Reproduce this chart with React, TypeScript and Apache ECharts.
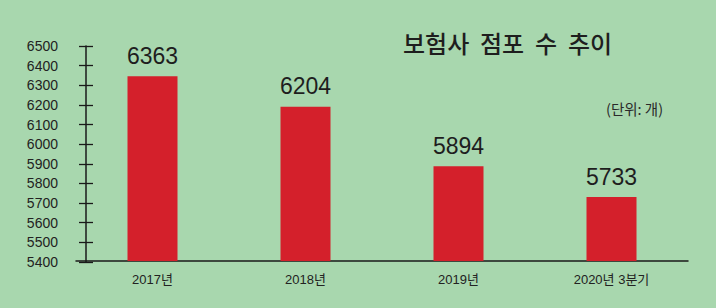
import React, { useEffect, useRef } from "react";
import * as echarts from "echarts";

const categories = ["2017년", "2018년", "2019년", "2020년 3분기"];
const values = [6363, 6204, 5894, 5733];
const yMin = 5400;
const yMax = 6500;
const yStep = 100;
const titleText = "보험사  점포  수  추이";
const unitText = "(단위: 개)";

export default function App() {
  const ref = useRef<HTMLDivElement>(null);
  useEffect(() => {
    if (!ref.current) return;
    const chart = echarts.init(ref.current, null, { renderer: "svg" });
    const font = "'Liberation Sans', 'Noto Sans CJK KR', sans-serif";
    const tickStyle = { color: "#1a1a1a", width: 1.3 };
    chart.setOption({
      animation: false,
      backgroundColor: "#a8d7ae",
      textStyle: { fontFamily: font },
      grid: [
        { left: 76, right: 28, top: 50, bottom: 47 },
        { left: 76, right: 28, top: 46, bottom: 46 },
      ],
      graphic: [
        {
          type: "text",
          left: 403,
          top: 30,
          style: {
            text: titleText,
            fontSize: 24,
            fontWeight: 500,
            fontFamily: "'Noto Sans CJK KR', sans-serif",
            fill: "#1e1e1e",
          },
        },
        {
          type: "text",
          left: 606,
          top: 101,
          style: {
            text: unitText,
            fontSize: 14.5,
            fontFamily: "'Noto Sans CJK KR', sans-serif",
            fill: "#2a2a2a",
          },
        },
      ],
      xAxis: [
        {
          type: "category",
          gridIndex: 0,
          data: categories,
          axisLine: { lineStyle: { color: "#1a1a1a", width: 1.5 } },
          axisTick: { show: false },
          axisLabel: { color: "#222", fontSize: 13, margin: 12, fontFamily: font },
        },
        {
          type: "category",
          gridIndex: 1,
          data: categories,
          show: false,
        },
      ],
      yAxis: [
        {
          type: "value",
          gridIndex: 0,
          min: yMin,
          max: yMax,
          interval: yStep,
          show: false,
        },
        {
          type: "value",
          gridIndex: 1,
          min: yMin,
          max: yMax,
          interval: yStep,
          offset: -10,
          splitLine: { show: false },
          axisLine: { show: true, lineStyle: { color: "#1a1a1a", width: 1.5 } },
          axisTick: { show: true, inside: true, length: 7, lineStyle: tickStyle },
          axisLabel: {
            color: "#222",
            fontSize: 14,
            margin: 28,
            fontFamily: font,
            formatter: (v: number) => String(v),
          },
        },
        {
          type: "value",
          gridIndex: 1,
          position: "left",
          min: yMin,
          max: yMax,
          interval: yStep,
          offset: -10,
          splitLine: { show: false },
          axisLine: { show: false },
          axisTick: { show: true, inside: false, length: 7, lineStyle: tickStyle },
          axisLabel: { show: false },
        },
      ],
      series: [
        {
          type: "bar",
          xAxisIndex: 0,
          yAxisIndex: 0,
          data: values,
          barWidth: 50,
          itemStyle: { color: "#d4202b" },
          label: {
            show: true,
            position: "top",
            distance: 9,
            color: "#1e1e1e",
            fontSize: 23,
            fontFamily: font,
          },
        },
      ],
    });
    return () => chart.dispose();
  }, []);
  return (
    <div
      ref={ref}
      style={{ position: "absolute", left: 0, top: 0, width: 716, height: 308 }}
    />
  );
}
